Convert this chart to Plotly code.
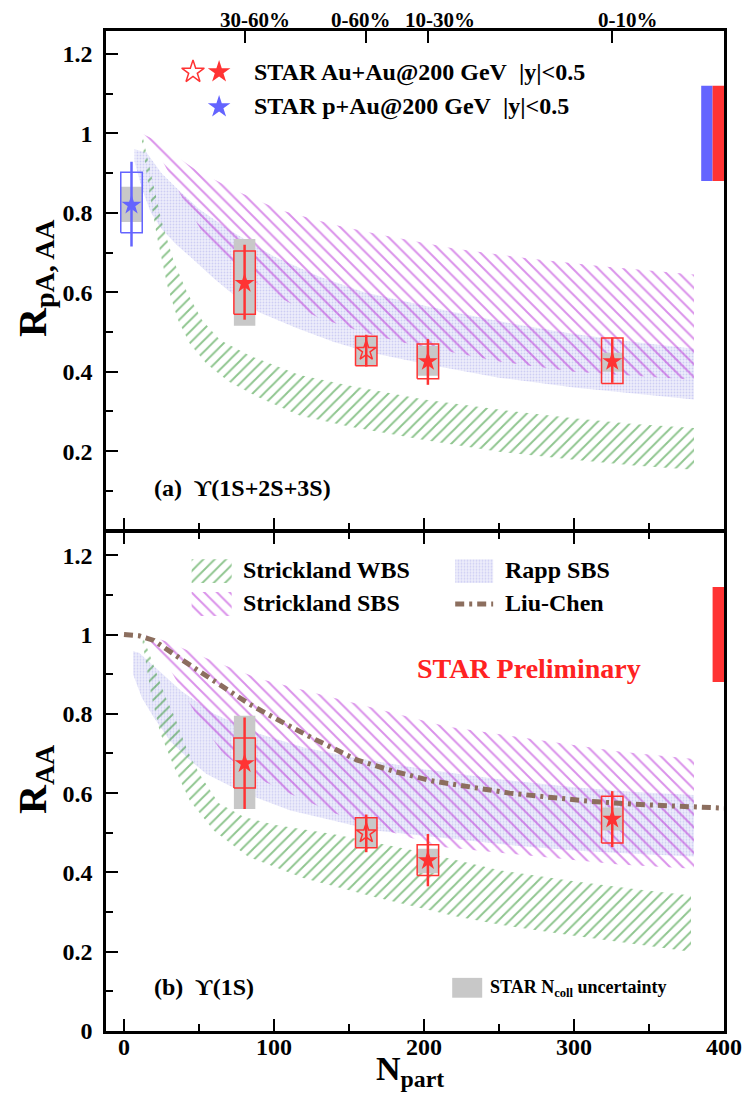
import plotly.graph_objects as go

# ------------------------------------------------------------------ data
cent_labels = ["30-60%", "0-60%", "10-30%", "0-10%"]
cent_npart = [80.4, 161.5, 202.6, 325.5]

# Au+Au points (order: 30-60, 0-60, 10-30, 0-10)
aa_npart = [80.4, 161.5, 202.6, 325.5]
aa_open = [False, True, False, False]

# panel (a)  Y(1S+2S+3S)
a_val = [0.623, 0.453, 0.426, 0.426]
a_stat_hi = [0.720, 0.493, 0.482, 0.486]
a_stat_lo = [0.531, 0.413, 0.367, 0.372]
a_sys_hi = [0.704, 0.489, 0.470, 0.485]
a_sys_lo = [0.545, 0.415, 0.382, 0.370]
a_ncoll_hi = [0.734, 0.489, 0.465, 0.448]
a_ncoll_lo = [0.516, 0.415, 0.390, 0.400]

# p+Au point (panel a)
pa_npart = [5.0]
pa_val = [0.820]
pa_stat_hi = [0.929]
pa_stat_lo = [0.715]
pa_sys_hi = [0.902]
pa_sys_lo = [0.750]
pa_ncoll_hi = [0.866]
pa_ncoll_lo = [0.777]

# panel (b)  Y(1S)
b_val = [0.675, 0.499, 0.430, 0.535]
b_stat_hi = [0.791, 0.546, 0.497, 0.605]
b_stat_lo = [0.560, 0.451, 0.365, 0.464]
b_sys_hi = [0.739, 0.538, 0.470, 0.592]
b_sys_lo = [0.613, 0.462, 0.392, 0.474]
b_ncoll_hi = [0.795, 0.538, 0.460, 0.564]
b_ncoll_lo = [0.560, 0.462, 0.398, 0.506]

# global uncertainty
glob_lo = 0.88
glob_hi = 1.12

# ---- model bands, panel (a)
wbs_a_up_x = [12, 18, 25, 33, 42, 52, 64, 84, 117, 150, 200, 251, 300, 340, 380]
wbs_a_up_y = [1.0, 0.90, 0.78, 0.68, 0.60, 0.53, 0.48, 0.44, 0.392, 0.365, 0.33, 0.304, 0.283, 0.268, 0.258]
wbs_a_lo_x = [12, 17, 22, 29, 36, 44, 55, 70, 90, 117, 150, 200, 251, 300, 340, 380]
wbs_a_lo_y = [0.98, 0.85, 0.74, 0.615, 0.53, 0.47, 0.42, 0.375, 0.335, 0.29, 0.262, 0.228, 0.198, 0.178, 0.164, 0.153]

sbs_a_up_x = [12, 20, 30, 48, 75, 104, 140, 171, 220, 270, 320, 380]
sbs_a_up_y = [1.0, 0.985, 0.955, 0.908, 0.855, 0.807, 0.77, 0.745, 0.71, 0.685, 0.665, 0.645]
sbs_a_lo_x = [12, 20, 30, 40, 54, 80, 102, 130, 162, 184, 251, 300, 340, 380]
sbs_a_lo_y = [0.995, 0.97, 0.90, 0.83, 0.74, 0.645, 0.59, 0.535, 0.497, 0.475, 0.425, 0.40, 0.39, 0.38]

rapp_a_up_x = [7, 15, 25, 37, 50, 71, 100, 130, 160, 184, 220, 260, 300, 340, 380]
rapp_a_up_y = [0.96, 0.952, 0.90, 0.855, 0.81, 0.755, 0.69, 0.64, 0.60, 0.58, 0.55, 0.52, 0.495, 0.475, 0.458]
rapp_a_lo_x = [7, 12, 18, 25, 35, 44, 60, 71, 90, 115, 140, 162, 200, 250, 300, 340, 380]
rapp_a_lo_y = [0.93, 0.86, 0.80, 0.76, 0.72, 0.69, 0.635, 0.60, 0.55, 0.51, 0.475, 0.45, 0.42, 0.385, 0.36, 0.345, 0.33]

# ---- model bands, panel (b)
wbs_b_up_x = [12, 20, 28, 34, 42, 50, 63, 80, 100, 139, 200, 251, 300, 340, 378]
wbs_b_up_y = [1.0, 0.92, 0.84, 0.79, 0.71, 0.65, 0.575, 0.54, 0.52, 0.497, 0.45, 0.405, 0.378, 0.358, 0.342]
wbs_b_lo_x = [12, 18, 24, 34, 44, 60, 83, 120, 167, 220, 251, 300, 340, 378]
wbs_b_lo_y = [0.99, 0.85, 0.753, 0.66, 0.58, 0.505, 0.439, 0.385, 0.338, 0.29, 0.268, 0.24, 0.22, 0.20]

sbs_b_up_x = [15, 30, 55, 89, 139, 190, 215, 280, 330, 380]
sbs_b_up_y = [1.0, 0.98, 0.94, 0.89, 0.841, 0.791, 0.768, 0.732, 0.705, 0.686]
sbs_b_lo_x = [15, 25, 40, 52, 66, 85, 111, 140, 167, 212, 280, 330, 380]
sbs_b_lo_y = [0.99, 0.95, 0.85, 0.774, 0.70, 0.645, 0.598, 0.55, 0.514, 0.464, 0.439, 0.42, 0.409]

rapp_b_up_x = [6, 10, 20, 38, 60, 90, 120, 153, 200, 250, 300, 340, 380]
rapp_b_up_y = [0.958, 0.954, 0.92, 0.858, 0.80, 0.75, 0.715, 0.69, 0.66, 0.635, 0.615, 0.603, 0.595]
rapp_b_lo_x = [6, 12, 20, 31, 45, 55, 80, 111, 140, 167, 209, 260, 300, 340, 380]
rapp_b_lo_y = [0.90, 0.84, 0.79, 0.73, 0.68, 0.648, 0.60, 0.556, 0.53, 0.506, 0.489, 0.468, 0.455, 0.447, 0.44]

liu_x = [0, 10, 20, 30, 40, 60, 83, 100, 125, 155, 180, 205, 230, 257, 285, 312, 340, 370, 400]
liu_y = [1.0, 0.997, 0.985, 0.958, 0.933, 0.883, 0.826, 0.79, 0.74, 0.684, 0.655, 0.631, 0.615, 0.600, 0.589, 0.579, 0.572, 0.566, 0.562]

# ------------------------------------------------------------------ style
FONT = "Liberation Serif"
RED = "#ff3333"
BLUE = "#6464ff"
GREEN = "#1f8c1f"
MAGENTA = "#b526d6"
RAPP_FG = "#b0b0ec"
RAPP_BG = "#ededfb"
BROWN = "#8c6e5e"
GREY = "#c8c8c8"
BOX_HW = 7.15          # half width of the uncertainty boxes (Npart units)
GLOB_HW = 3.8          # half width of global-uncertainty boxes
LINE_W = 2.5

L, R, T, B = 106, 31, 31, 63
W, H = 755, 1094
PW, PH = W - L - R, H - T - B
GAP = LINE_W / PH      # so that the two shared frame lines coincide


def px_x(p):
    return (p - L) / PW


def px_y(p):
    return (H - B - p) / PH


WBS_PAT = dict(shape="/", fgcolor=GREEN, bgcolor="rgba(0,0,0,0)", size=8, solidity=0.24)
SBS_PAT = dict(shape="\\", fgcolor=MAGENTA, bgcolor="rgba(0,0,0,0)", size=9, solidity=0.22)
RAPP_PAT = dict(shape=".", fgcolor=RAPP_FG, bgcolor=RAPP_BG, size=3, solidity=0.3)

fig = go.Figure()


def add_band(xu, yu, xl, yl, pat, xa, ya):
    x = list(xu) + list(xl)[::-1] + [xu[0]]
    y = list(yu) + list(yl)[::-1] + [yu[0]]
    fig.add_trace(go.Scatter(x=x, y=y, mode="lines", line=dict(width=0, color=pat["fgcolor"]),
                             fill="toself", fillcolor="rgba(0,0,0,0)", fillpattern=pat,
                             xaxis=xa, yaxis=ya, hoverinfo="skip", showlegend=False))


def rects(xc, lo, hi, hw):
    xs, ys = [], []
    for c, l, h in zip(xc, lo, hi):
        xs += [c - hw, c + hw, c + hw, c - hw, c - hw, None]
        ys += [l, l, h, h, l, None]
    return xs, ys


def add_boxes(xc, lo, hi, hw, xa, ya, fill=None, line=None, lw=1.5):
    xs, ys = rects(xc, lo, hi, hw)
    if fill is not None:
        fig.add_trace(go.Scatter(x=xs, y=ys, mode="lines", line=dict(width=0, color=fill), fill="toself",
                                 fillcolor=fill, xaxis=xa, yaxis=ya, showlegend=False, hoverinfo="skip"))
    if line is not None:
        fig.add_trace(go.Scatter(x=xs, y=ys, mode="lines", line=dict(width=lw, color=line),
                                 xaxis=xa, yaxis=ya, showlegend=False, hoverinfo="skip"))


def add_points(xa, ya, npart, val, shi, slo, syhi, sylo, nchi, nclo, color, open_flags):
    add_boxes(npart, nclo, nchi, BOX_HW, xa, ya, fill=GREY)
    add_boxes(npart, sylo, syhi, BOX_HW, xa, ya, line=color)
    fig.add_trace(go.Scatter(
        x=npart, y=val, mode="markers",
        marker=dict(symbol=["star-open" if o else "star" for o in open_flags], size=15, color=color,
                    line=dict(width=[1.5 if o else 0 for o in open_flags], color=color)),
        error_y=dict(type="data", symmetric=False,
                     array=[h - v for h, v in zip(shi, val)],
                     arrayminus=[v - l for v, l in zip(val, slo)],
                     color=color, thickness=2.5, width=0),
        xaxis=xa, yaxis=ya, showlegend=False))


# panel (a)
add_band(rapp_a_up_x, rapp_a_up_y, rapp_a_lo_x, rapp_a_lo_y, RAPP_PAT, "x", "y")
add_band(wbs_a_up_x, wbs_a_up_y, wbs_a_lo_x, wbs_a_lo_y, WBS_PAT, "x", "y")
add_band(sbs_a_up_x, sbs_a_up_y, sbs_a_lo_x, sbs_a_lo_y, SBS_PAT, "x", "y")
add_points("x", "y", pa_npart, pa_val, pa_stat_hi, pa_stat_lo, pa_sys_hi, pa_sys_lo,
           pa_ncoll_hi, pa_ncoll_lo, BLUE, [False])
add_points("x", "y", aa_npart, a_val, a_stat_hi, a_stat_lo, a_sys_hi, a_sys_lo,
           a_ncoll_hi, a_ncoll_lo, RED, aa_open)

# panel (b)
add_band(rapp_b_up_x, rapp_b_up_y, rapp_b_lo_x, rapp_b_lo_y, RAPP_PAT, "x2", "y2")
add_band(wbs_b_up_x, wbs_b_up_y, wbs_b_lo_x, wbs_b_lo_y, WBS_PAT, "x2", "y2")
add_band(sbs_b_up_x, sbs_b_up_y, sbs_b_lo_x, sbs_b_lo_y, SBS_PAT, "x2", "y2")
LIU_DASH = "9px,5px,3px,5px"
fig.add_trace(go.Scatter(x=liu_x, y=liu_y, mode="lines", line=dict(color=BROWN, width=5, dash=LIU_DASH),
                         xaxis="x2", yaxis="y2", showlegend=False))
add_points("x2", "y2", aa_npart, b_val, b_stat_hi, b_stat_lo, b_sys_hi, b_sys_lo,
           b_ncoll_hi, b_ncoll_lo, RED, aa_open)

# global uncertainty boxes at right edge
GLOB_XC_PA, GLOB_XC_AA = 388.6, 396.2
add_boxes([GLOB_XC_PA], [glob_lo], [glob_hi], GLOB_HW, "x", "y", fill=BLUE)
add_boxes([GLOB_XC_AA], [glob_lo], [glob_hi], GLOB_HW, "x", "y", fill=RED)
add_boxes([GLOB_XC_AA], [glob_lo], [glob_hi], GLOB_HW, "x2", "y2", fill=RED)

# ---------------------------------------------------------- legends (layout)
# (attached to the top centrality axis x3, which shares the Npart range of x)
LEG_A_ROW1, LEG_A_ROW2 = 1.155, 1.067
LEG_A_X_OPEN, LEG_A_X_FULL = 46.0, 63.4
fig.add_trace(go.Scatter(x=[LEG_A_X_OPEN, LEG_A_X_FULL, LEG_A_X_FULL],
                         y=[LEG_A_ROW1, LEG_A_ROW1, LEG_A_ROW2], mode="markers",
                         marker=dict(symbol=["star-open", "star", "star"], size=17,
                                     color=[RED, RED, BLUE], line=dict(width=[1.5, 0, 0], color=[RED, RED, BLUE])),
                         xaxis="x3", yaxis="y", showlegend=False))

SW_C1, SW_C2 = (45.1, 71.8), (220.8, 246.1)
SW_R1, SW_R2 = (1.13, 1.19), (1.047, 1.107)


def swatch(cx, ry, pat):
    fig.add_trace(go.Scatter(x=[cx[0], cx[1], cx[1], cx[0], cx[0]], y=[ry[0], ry[0], ry[1], ry[1], ry[0]],
                             mode="lines", line=dict(width=0, color=pat["fgcolor"]), fill="toself",
                             fillcolor="rgba(0,0,0,0)", fillpattern=pat, xaxis="x2", yaxis="y2",
                             showlegend=False, hoverinfo="skip"))


swatch(SW_C1, SW_R1, WBS_PAT)
swatch(SW_C2, SW_R1, RAPP_PAT)
swatch(SW_C1, SW_R2, SBS_PAT)
ymid = (SW_R2[0] + SW_R2[1]) / 2
fig.add_trace(go.Scatter(x=[SW_C2[0], SW_C2[1]], y=[ymid, ymid], mode="lines",
                         line=dict(color=BROWN, width=5, dash=LIU_DASH), xaxis="x2", yaxis="y2",
                         showlegend=False))

fig.add_shape(type="rect", xref="x2", yref="y2", x0=218.8, x1=238.8, y0=0.084, y1=0.134,
              fillcolor=GREY, line=dict(width=0))

# ------------------------------------------------------------------ axes
tickfont = dict(family=FONT, size=24, color="black", weight="bold")
common = dict(showgrid=False, zeroline=False, showline=True, linecolor="black", linewidth=LINE_W,
              ticks="inside", tickcolor="black", tickwidth=2, ticklen=12, tickfont=tickfont)
xminor = dict(dtick=50, ticks="inside", ticklen=7, tickwidth=2, tickcolor="black")
yminor = dict(dtick=0.1, ticks="inside", ticklen=7, tickwidth=2, tickcolor="black")

fig.update_layout(
    width=W, height=H, margin=dict(l=L, r=R, t=T, b=B),
    paper_bgcolor="white", plot_bgcolor="white", showlegend=False,
    xaxis=dict(domain=[0, 1], anchor="y", range=[-12, 400], tick0=0, dtick=100, minor=xminor,
               showticklabels=False, mirror=True, **common),
    xaxis2=dict(domain=[0, 1], anchor="y2", range=[-12, 400], tick0=0, dtick=100, minor=xminor,
                showticklabels=True, mirror="ticks", ticklabelstandoff=-8, **common),
    xaxis3=dict(overlaying="x", anchor="y", side="top", range=[-12, 400], tickmode="array",
                tickvals=cent_npart, ticks="inside", ticklen=12, tickwidth=2, tickcolor="black",
                showticklabels=False, showline=False, showgrid=False, zeroline=False),
    yaxis=dict(domain=[0.5 + GAP / 2, 1], anchor="x", range=[0.002, 1.258], tick0=0, dtick=0.2,
               minor=yminor, mirror=True, ticklabelstandoff=6, **common),
    yaxis2=dict(domain=[0, 0.5 - GAP / 2], anchor="x2", range=[0, 1.258], tick0=0, dtick=0.2,
                minor=yminor, mirror=True, ticklabelstandoff=6, **common),
)

# ------------------------------------------------------------ annotations
ann = []
cent_shift = [10, -5, 12, 16]
for lbl, xv, sh in zip(cent_labels, cent_npart, cent_shift):
    ann.append(dict(text=lbl, x=xv, xref="x", y=1, yref="paper", yanchor="middle", yshift=11,
                    xshift=sh, showarrow=False, font=dict(family=FONT, size=21, color="black", weight="bold")))

bold24 = dict(family=FONT, size=24, color="black", weight="bold")
ann2 = [
    dict(text="STAR Au+Au@200 GeV\u00a0\u00a0|y|&lt;0.5", x=px_x(252), y=px_y(72)),
    dict(text="STAR p+Au@200 GeV\u00a0\u00a0|y|&lt;0.5", x=px_x(252), y=px_y(107)),
    dict(text="(a)\u00a0\u00a0\u03d2(1S+2S+3S)", x=px_x(152), y=px_y(488)),
    dict(text="(b)\u00a0\u00a0\u03d2(1S)", x=px_x(152), y=px_y(987)),
    dict(text="Strickland WBS", x=px_x(241), y=px_y(570)),
    dict(text="Rapp SBS", x=px_x(503), y=px_y(570)),
    dict(text="Strickland SBS", x=px_x(241), y=px_y(603)),
    dict(text="Liu-Chen", x=px_x(503), y=px_y(603)),
]
for a in ann2:
    a.update(xref="paper", yref="paper", xanchor="left", yanchor="middle", showarrow=False, font=bold24)
ann += ann2

ann += [
    dict(text="STAR Preliminary", x=px_x(415), y=px_y(668), xref="paper", yref="paper", xanchor="left",
         yanchor="middle", showarrow=False, font=dict(family=FONT, size=28, color="#ff2222", weight="bold")),
    dict(text="STAR N<sub>coll</sub> uncertainty", x=px_x(488), y=px_y(988), xref="paper", yref="paper",
         xanchor="left", yanchor="middle", showarrow=False,
         font=dict(family=FONT, size=18, color="black", weight="bold")),
    dict(text="R<sub>pA, AA</sub>", x=px_x(35), y=px_y(278), xref="paper", yref="paper", textangle=-90,
         xanchor="center", yanchor="middle", showarrow=False,
         font=dict(family=FONT, size=40, color="black", weight="bold")),
    dict(text="R<sub>AA</sub>", x=px_x(35), y=px_y(779), xref="paper", yref="paper", textangle=-90,
         xanchor="center", yanchor="middle", showarrow=False,
         font=dict(family=FONT, size=40, color="black", weight="bold")),
    dict(text="N<sub>part</sub>", x=px_x(410), y=px_y(1094), xref="paper", yref="paper",
         xanchor="center", yanchor="bottom", showarrow=False,
         font=dict(family=FONT, size=34, color="black", weight="bold")),
]
fig.update_layout(annotations=ann)

fig.write_html("out.html")
